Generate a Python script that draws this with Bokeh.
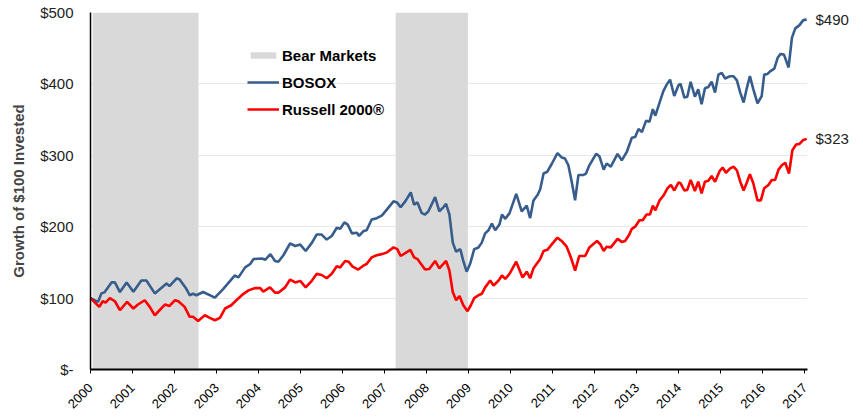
import math
from bokeh.plotting import figure
from bokeh.models import (FixedTicker, Legend, LegendItem, LinearAxis, ColumnDataSource, Range1d)
from bokeh.embed import file_html
from bokeh.resources import INLINE

# ---- data (decimal years, growth of $100) ----
bosox_t = [2000.00, 2000.18, 2000.26, 2000.33, 2000.50, 2000.58, 2000.70, 2000.86, 2001.02, 2001.21,
           2001.33, 2001.53, 2001.81, 2001.88, 2002.05, 2002.12, 2002.28, 2002.36, 2002.44, 2002.52,
           2002.68, 2002.96, 2003.16, 2003.43, 2003.52, 2003.68, 2003.80, 2003.88, 2004.08, 2004.16,
           2004.28, 2004.39, 2004.47, 2004.59, 2004.75, 2004.87, 2004.99, 2005.12, 2005.27, 2005.38,
           2005.50, 2005.62, 2005.74, 2005.86, 2005.94, 2006.04, 2006.12, 2006.22, 2006.34, 2006.39,
           2006.50, 2006.57, 2006.69, 2006.81, 2006.93, 2007.05, 2007.21, 2007.29, 2007.38, 2007.49,
           2007.62, 2007.70, 2007.78, 2007.88, 2007.96, 2008.04, 2008.20, 2008.30, 2008.40, 2008.46,
           2008.54, 2008.62, 2008.70, 2008.80, 2008.87, 2008.95, 2009.03, 2009.13, 2009.23, 2009.31,
           2009.39, 2009.47, 2009.55, 2009.63, 2009.73, 2009.79, 2009.87, 2009.97, 2010.13, 2010.26,
           2010.38, 2010.46, 2010.54, 2010.64, 2010.70, 2010.78, 2010.87, 2010.98, 2011.11, 2011.21,
           2011.29, 2011.37, 2011.45, 2011.53, 2011.61, 2011.73, 2011.79, 2011.87, 2012.03, 2012.11,
           2012.21, 2012.28, 2012.38, 2012.54, 2012.64, 2012.76, 2012.88, 2012.96, 2013.04, 2013.12,
           2013.22, 2013.30, 2013.38, 2013.44, 2013.54, 2013.63, 2013.71, 2013.79, 2013.89, 2013.99,
           2014.04, 2014.13, 2014.20, 2014.28, 2014.38, 2014.46, 2014.54, 2014.62, 2014.70, 2014.78,
           2014.86, 2014.94, 2015.02, 2015.10, 2015.22, 2015.30, 2015.38, 2015.46, 2015.54, 2015.61,
           2015.69, 2015.77, 2015.87, 2015.97, 2016.03, 2016.11, 2016.17, 2016.27, 2016.35, 2016.42,
           2016.50, 2016.61, 2016.69, 2016.77, 2016.87, 2016.96, 2017.04]
bosox_v = [100, 94.6, 106.6, 108, 122, 122, 108.5, 122, 109, 124.6,
           124.6, 106.6, 120.5, 116.8, 127.8, 126, 113, 104, 106, 104,
           108.5, 100.7, 113, 131.6, 129, 143, 147.7, 154.7, 155.5, 153.7,
           161.6, 152, 151, 160, 176.7, 173, 175, 166, 177.7, 189,
           189, 182, 187, 198.5, 197, 206, 203, 190.6, 191.6, 187,
           194, 195, 210, 212, 215.5, 224, 235.5, 234, 227.5, 235.5,
           248, 231, 234, 219, 217, 221.6, 241.5, 221.6, 227.5, 232,
           217, 177.7, 165, 168.5, 152, 137, 147.7, 168.5, 170.8, 177.7,
           190.6, 195, 204.4, 195, 203, 217, 211, 219, 246, 221.6,
           229.5, 212, 236.8, 244.7, 252.5, 274.5, 277, 288.5, 303, 297,
           295.5, 286, 263, 237, 272.5, 272.5, 274.5, 286, 302, 298.6,
           280, 288.5, 284, 302, 293, 304.7, 324.5, 325.5, 337, 332.4,
           348.5, 347, 364.7, 355.5, 373.8, 390, 399, 406, 383, 398,
           400, 380.9, 382, 403, 382, 392.6, 371.5, 394, 395.6, 403,
           387.8, 413, 415.5, 407.6, 410.8, 410.8, 404.9, 387.8, 374, 392.6,
           410.8, 392.6, 372.6, 383, 413, 414, 417.6, 421.5, 436.6, 442,
           441, 423, 464.8, 477.8, 482.3, 489.3, 490]

russell_t = [2000.00, 2000.21, 2000.29, 2000.36, 2000.46, 2000.58, 2000.70, 2000.87, 2001.02, 2001.13,
             2001.29, 2001.41, 2001.53, 2001.77, 2001.88, 2002.01, 2002.09, 2002.24, 2002.36, 2002.44,
             2002.56, 2002.72, 2002.84, 2002.96, 2003.08, 2003.20, 2003.35, 2003.47, 2003.64, 2003.76,
             2003.92, 2004.04, 2004.11, 2004.27, 2004.39, 2004.47, 2004.63, 2004.75, 2004.87, 2004.99,
             2005.12, 2005.27, 2005.38, 2005.50, 2005.62, 2005.74, 2005.86, 2005.94, 2006.06, 2006.14,
             2006.23, 2006.37, 2006.49, 2006.57, 2006.69, 2006.81, 2006.93, 2007.05, 2007.21, 2007.30,
             2007.38, 2007.61, 2007.70, 2007.78, 2007.96, 2008.06, 2008.20, 2008.30, 2008.46, 2008.54,
             2008.62, 2008.70, 2008.78, 2008.87, 2008.97, 2009.05, 2009.13, 2009.23, 2009.31, 2009.39,
             2009.51, 2009.59, 2009.71, 2009.79, 2009.87, 2009.97, 2010.13, 2010.28, 2010.38, 2010.46,
             2010.54, 2010.70, 2010.78, 2010.87, 2010.98, 2011.11, 2011.21, 2011.33, 2011.43, 2011.53,
             2011.63, 2011.77, 2011.87, 2012.05, 2012.13, 2012.21, 2012.28, 2012.38, 2012.54, 2012.64,
             2012.72, 2012.82, 2012.88, 2012.96, 2013.06, 2013.14, 2013.23, 2013.31, 2013.38, 2013.44,
             2013.54, 2013.63, 2013.73, 2013.81, 2013.89, 2013.99, 2014.04, 2014.13, 2014.20, 2014.28,
             2014.38, 2014.46, 2014.54, 2014.62, 2014.70, 2014.78, 2014.86, 2014.97, 2015.04, 2015.12,
             2015.22, 2015.30, 2015.38, 2015.46, 2015.54, 2015.61, 2015.69, 2015.77, 2015.87, 2015.95,
             2016.03, 2016.13, 2016.21, 2016.29, 2016.37, 2016.45, 2016.53, 2016.62, 2016.70, 2016.79,
             2016.87, 2016.96, 2017.04]
russell_v = [100, 87.7, 95.6, 93.8, 100, 95.6, 83, 94.6, 85.4, 91,
             97, 87.7, 76, 91, 89, 97, 95.6, 87.7, 73.8, 73.8,
             67.9, 76, 72.4, 69, 72.4, 85.4, 90, 97, 106, 110.8,
             114, 114, 109, 115, 107.6, 107.6, 115, 126, 122, 124,
             115, 124.6, 133.9, 132.4, 127.8, 134, 144.5, 143, 152, 151,
             144.5, 140, 145.4, 147.7, 157, 160, 161.6, 163.9, 171, 168.5,
             159, 167.6, 157, 154.7, 140, 140.8, 152, 141.7, 152, 138.5,
             108.4, 97, 103, 90, 81.7, 90, 100, 104, 106, 115,
             124.6, 117.7, 124.6, 131.6, 127, 134, 151, 129, 137, 127.8,
             141.7, 154.7, 166, 167.6, 175.5, 184.6, 180, 172, 157, 138.5,
             159, 159, 171, 180, 175.5, 166, 172, 171, 183, 178.7,
             180, 189, 197, 200, 209, 209, 217, 217, 229.5, 223,
             236.8, 243.3, 253.9, 258.5, 250.7, 261.8, 260.8, 250.7, 251.6, 265.5,
             250, 263, 246.8, 263, 264.5, 271, 263, 278, 282.8, 275.6,
             281.6, 284, 279, 263, 250.7, 260.8, 273.7, 260.8, 236.8, 236.8,
             253.9, 258.5, 265.5, 265.5, 280, 286, 289.5, 274.5, 307, 315,
             316, 321.5, 323]

bear_start = [2000.05, 2007.26]
bear_end = [2002.57, 2008.98]

year_ticks = list(range(2000, 2018))
y_ticks = [0, 100, 200, 300, 400, 500]
y_tick_labels = ["$-", "$100", "$200", "$300", "$400", "$500"]

BLUE = "#375d8c"
RED = "#ff0000"
GRAY = "#d9d9d9"
FONT = "Liberation Sans"

p = figure(width=856, height=415, output_backend="svg", toolbar_location=None,
           x_range=Range1d(2000, 2017.06), y_range=Range1d(0, 500),
           min_border_left=90, min_border_right=49, min_border_top=12, min_border_bottom=39)
p.outline_line_color = None
p.background_fill_color = "white"
p.border_fill_color = "white"

bear_src = ColumnDataSource(dict(left=bear_start, right=bear_end,
                                 bottom=[0] * len(bear_start), top=[500] * len(bear_start)))
bear_r = p.quad(left="left", right="right", bottom="bottom", top="top", source=bear_src,
                fill_color=GRAY, line_color=None)

bos_r = p.line(bosox_t, bosox_v, line_color=BLUE, line_width=2.6)
rus_r = p.line(russell_t, russell_v, line_color=RED, line_width=2.6)

# axes
p.xaxis.ticker = FixedTicker(ticks=year_ticks)
p.xaxis.major_label_orientation = math.pi / 4
p.xaxis.major_label_text_font = FONT
p.xaxis.major_label_text_font_size = "13px"
p.xaxis.major_label_text_color = "#000000"
p.xaxis.axis_line_color = "black"
p.xaxis.axis_line_width = 2
p.xaxis.major_tick_out = 4
p.xaxis.major_tick_in = 0
p.xaxis.major_tick_line_color = "black"
p.xaxis.minor_tick_line_color = None
p.xaxis.major_label_standoff = 12

p.yaxis.ticker = FixedTicker(ticks=y_ticks)
p.yaxis.major_label_overrides = {t: s for t, s in zip(y_ticks, y_tick_labels)}
p.yaxis.major_label_text_font = FONT
p.yaxis.major_label_text_font_size = "15px"
p.yaxis.major_label_text_color = "#222222"
p.yaxis.axis_line_color = "black"
p.yaxis.axis_line_width = 1.5
p.yaxis.major_tick_out = 0
p.yaxis.major_tick_in = 0
p.yaxis.minor_tick_line_color = None
p.yaxis.major_label_standoff = 17
p.yaxis.axis_label = "Growth of $100 Invested"
p.yaxis.axis_label_text_font = FONT
p.yaxis.axis_label_text_font_style = "bold"
p.yaxis.axis_label_text_font_size = "15px"
p.yaxis.axis_label_standoff = 10

p.xgrid.grid_line_color = None
p.ygrid.grid_line_color = "#e8e8e8"
p.ygrid.grid_line_width = 1

# end values shown on a right-hand axis
end_vals = [bosox_v[-1], russell_v[-1]]
right_axis = LinearAxis(ticker=FixedTicker(ticks=end_vals),
                        major_label_overrides={v: f"${v:.0f}" for v in end_vals},
                        axis_line_color=None, major_tick_line_color=None,
                        minor_tick_line_color=None, major_tick_out=0, major_tick_in=0,
                        major_label_standoff=8, major_label_text_font=FONT,
                        major_label_text_font_size="15px", major_label_text_color="#222222")
p.add_layout(right_axis, "right")

legend = Legend(items=[LegendItem(label="Bear Markets", renderers=[bear_r]),
                       LegendItem(label="BOSOX", renderers=[bos_r]),
                       LegendItem(label="Russell 2000®", renderers=[rus_r])],
                location=(157, 250))
legend.glyph_width = 32
legend.glyph_height = 8
legend.label_height = 20
legend.spacing = 7
legend.padding = 0
legend.margin = 0
legend.label_standoff = 3
legend.label_text_font = FONT
legend.label_text_font_style = "bold"
legend.label_text_font_size = "15px"
legend.label_text_color = "#000000"
legend.background_fill_alpha = 0
legend.border_line_color = None
p.add_layout(legend)

open("out.html", "w").write(file_html(p, INLINE))
